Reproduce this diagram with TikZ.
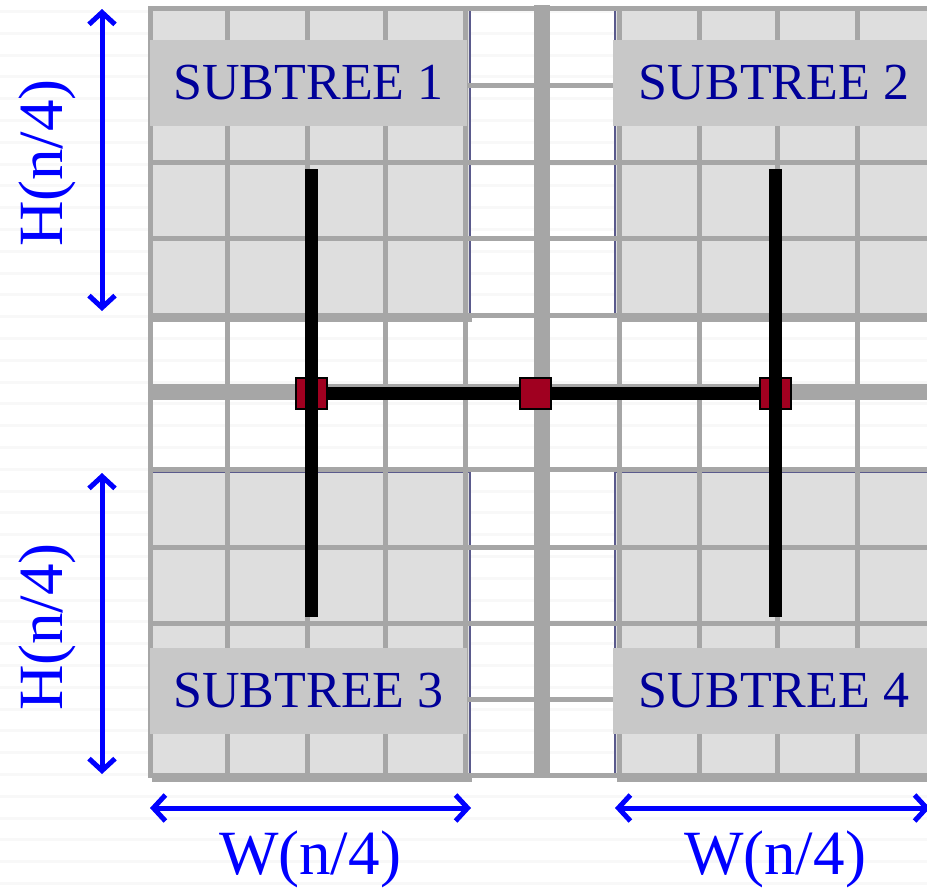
\documentclass[tikz,border=0pt]{standalone}
\usepackage{fontspec}
\setmainfont{Liberation Serif}
\usetikzlibrary{arrows.meta}
\definecolor{gridgray}{HTML}{A6A6A6}
\definecolor{cellgray}{HTML}{DEDEDE}
\definecolor{labelgray}{HTML}{C8C8C8}
\definecolor{navytext}{HTML}{000099}
\definecolor{edgenavy}{HTML}{5A5A8C}
\definecolor{nodered}{HTML}{A00020}
\definecolor{stripe}{HTML}{F8F8F8}
\definecolor{dimblue}{HTML}{0000FF}
\begin{document}
\begin{tikzpicture}[x=1pt,y=-1pt,
  gridline/.style={draw=gridgray,line width=5pt,line cap=rect},
  gridthick/.style={draw=gridgray,line width=16pt},
  subtree/.style={fill=cellgray,draw=edgenavy,line width=1.2pt},
  shadowbox/.style={fill=black,opacity=0.35},
  labelbox/.style={fill=labelgray,text=navytext,inner sep=0pt,
    minimum width=317pt,minimum height=86pt,font=\fontsize{52}{60}\selectfont},
  wire/.style={draw=black,line width=13pt},
  sq/.style={fill=nodered,draw=black,line width=2pt,minimum size=31pt,inner sep=0pt},
  dimarrow/.style={draw=dimblue,line width=5pt,
    {Straight Barb[length=12pt,width=26pt]}-{Straight Barb[length=12pt,width=26pt]}},
  dimtext/.style={text=dimblue,inner sep=0pt,font=\fontsize{63}{70}\selectfont}]
\useasboundingbox (0,0) rectangle (927,889);
\fill[white] (0,0) rectangle (927,889);
\foreach \k in {0,...,40} \fill[stripe] (0,{10+21.8*\k}) rectangle (927,{13+21.8*\k});
% shadows
\fill[shadowbox] (152,316) rectangle (472,322);
\fill[shadowbox] (617,316) rectangle (935,322);
\fill[shadowbox] (152,776) rectangle (472,782);
\fill[shadowbox] (617,776) rectangle (935,782);
% subtree areas
\draw[subtree] (150,8) rectangle (470,315);
\draw[subtree] (615,8) rectangle (935,315);
\draw[subtree] (150,472) rectangle (470,775);
\draw[subtree] (615,472) rectangle (935,775);
% grid
\foreach \x in {150,227,307,385,465,619,699,777,857} \draw[gridline] (\x,8) -- (\x,775);
\foreach \y in {8,85,162,238,315,469,547,623,699,775} \draw[gridline] (150,\y) -- (935,\y);
\draw[gridthick] (542,5) -- (542,777);
\draw[gridthick] (148,392) -- (935,392);
% subtree labels
\node[labelbox] (st1) at (308.5,83) {SUBTREE 1};
\node[labelbox,minimum width=322pt] (st2) at (774,83) {SUBTREE 2};
\node[labelbox] (st3) at (308.5,691) {SUBTREE 3};
\node[labelbox,minimum width=322pt] (st4) at (774,691) {SUBTREE 4};
% tree wiring
\coordinate (cL) at (311,393);
\coordinate (cR) at (775,393);
\coordinate (t1) at (311,169);
\coordinate (b1) at (311,617);
\coordinate (t2) at (775,169);
\coordinate (b2) at (775,617);
\draw[wire] (cL) -- (cR);
\node[sq] (sqL) at (cL) {};
\node[sq] (sqR) at (cR) {};
\node[sq] (sqC) at (535,393) {};
\draw[wire] (t1) -- (b1);
\draw[wire] (t2) -- (b2);
% dimension arrows
\coordinate (h1a) at (102,9);
\coordinate (h1b) at (102,311);
\coordinate (h2a) at (102,473);
\coordinate (h2b) at (102,774);
\coordinate (w1a) at (150,808);
\coordinate (w1b) at (471,808);
\coordinate (w2a) at (615,808);
\coordinate (w2b) at (930,808);
\draw[dimarrow] (h1a) -- (h1b);
\draw[dimarrow] (h2a) -- (h2b);
\draw[dimarrow] (w1a) -- (w1b);
\draw[dimarrow] (w2a) -- (w2b);
\node[dimtext,rotate=90,anchor=base] (hl1) at (62,163) {H(n/4)};
\node[dimtext,rotate=90,anchor=base] (hl2) at (62,627) {H(n/4)};
\node[dimtext,anchor=base] (wl1) at (310,874) {W(n/4)};
\node[dimtext,anchor=base] (wl2) at (775,874) {W(n/4)};
\end{tikzpicture}
\end{document}
